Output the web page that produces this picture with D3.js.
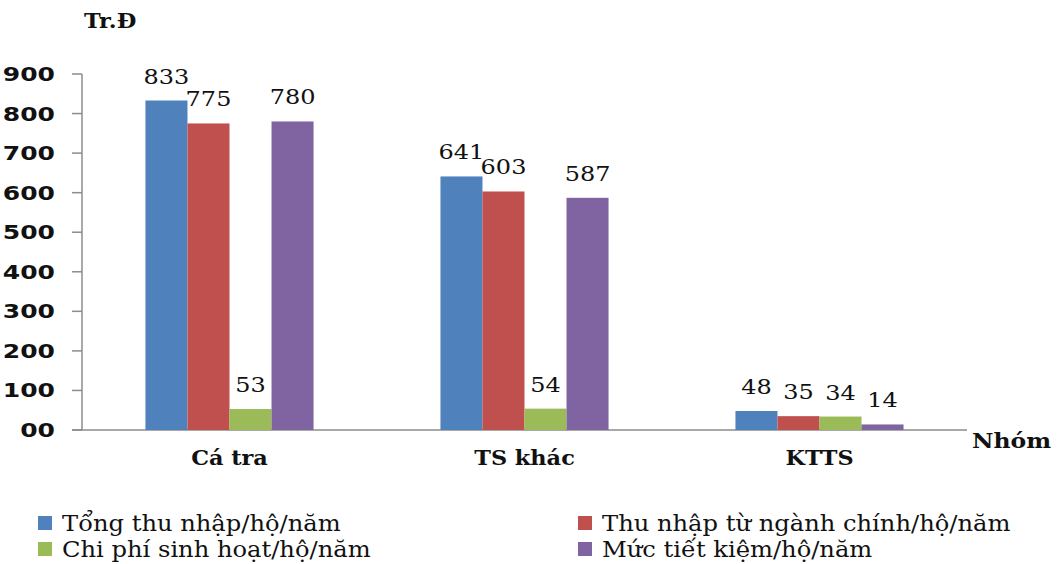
<!DOCTYPE html>
<html>
<head>
<meta charset="utf-8">
<script src="https://cdn.jsdelivr.net/npm/d3@7"></script>
<style>
  html, body { margin: 0; padding: 0; background: #fff; }
  svg { display: block; }
  .serif { font-family: "DejaVu Serif", "Liberation Serif", serif; }
  .sans { font-family: "DejaVu Sans", Verdana, sans-serif; }
</style>
</head>
<body>
<svg id="chart" width="1059" height="564"></svg>
<script>
// Household income / expenditure by group (million VND)
const categories = ["Cá tra", "TS khác", "KTTS"];
const seriesNames = [
  "Tổng thu nhập/hộ/năm",
  "Thu nhập từ ngành chính/hộ/năm",
  "Chi phí sinh hoạt/hộ/năm",
  "Mức tiết kiệm/hộ/năm"
];
const totalIncome = [833, 641, 48];
const mainIncome = [775, 603, 35];
const livingCost = [53, 54, 34];
const savings = [780, 587, 14];
const yTicks = [0, 100, 200, 300, 400, 500, 600, 700, 800, 900];
const yTickLabels = ["00", "100", "200", "300", "400", "500", "600", "700", "800", "900"];

const seriesValues = [totalIncome, mainIncome, livingCost, savings];
const colors = ["#4F81BD", "#C0504D", "#9BBB59", "#8064A2"];

const svg = d3.select("#chart");

const plot = { left: 82, right: 967, top: 74, bottom: 430 };

const y = d3.scaleLinear().domain([0, 900]).range([plot.bottom, plot.top]);
const x0 = d3.scaleBand().domain(categories).range([plot.left, plot.right]).padding(0);
const x1 = d3.scaleBand().domain(d3.range(seriesNames.length))
  .range([0, x0.bandwidth()]).paddingInner(0).paddingOuter(1.51);

// text widened horizontally, as in the printed figure
function wideText(g, x, yPos, str, opts) {
  return g.append("text")
    .attr("class", opts.cls || "serif")
    .attr("transform", `translate(${x},${yPos}) scale(${opts.sx || 1},1)`)
    .attr("text-anchor", opts.anchor || "start")
    .style("font-size", (opts.size || 22) + "px")
    .style("font-weight", opts.weight || "normal")
    .attr("fill", opts.fill || "#111")
    .text(str);
}

// axes
const axisColor = "#8c8c8c";
svg.append("line")
  .attr("x1", plot.left).attr("x2", plot.left)
  .attr("y1", y(900)).attr("y2", y(0))
  .attr("stroke", axisColor).attr("stroke-width", 1.5);
svg.append("line")
  .attr("x1", plot.left - 10).attr("x2", plot.right)
  .attr("y1", y(0)).attr("y2", y(0))
  .attr("stroke", axisColor).attr("stroke-width", 1.5);

const tickG = svg.append("g");
yTicks.forEach((v, i) => {
  tickG.append("line")
    .attr("x1", plot.left - 10).attr("x2", plot.left)
    .attr("y1", y(v)).attr("y2", y(v))
    .attr("stroke", axisColor).attr("stroke-width", 1.5);
  wideText(tickG, 55, y(v) + 7, yTickLabels[i],
    { cls: "sans", anchor: "end", size: 20, weight: "bold", sx: 1.25 });
});

// bars
const barG = svg.append("g");
categories.forEach((c, ci) => {
  seriesValues.forEach((vals, si) => {
    const v = vals[ci];
    barG.append("rect")
      .attr("x", x0(c) + x1(si))
      .attr("y", y(v))
      .attr("width", x1.bandwidth())
      .attr("height", y(0) - y(v))
      .attr("fill", colors[si]);
  });
});

// value labels
const lblG = svg.append("g");
categories.forEach((c, ci) => {
  seriesValues.forEach((vals, si) => {
    const v = vals[ci];
    const cx = x0(c) + x1(si) + x1.bandwidth() / 2;
    wideText(lblG, cx, y(v) - 17, String(v), { anchor: "middle", size: 20, sx: 1.2 });
  });
});

// category labels
categories.forEach(c => {
  wideText(svg, x0(c) + x0.bandwidth() / 2, 465, c,
    { anchor: "middle", size: 20, weight: "bold", sx: 1.12 });
});

// axis titles
wideText(svg, 84, 28, "Tr.Đ", { size: 21, weight: "bold", sx: 1.07 });
wideText(svg, 972, 448, "Nhóm", { size: 21, weight: "bold", sx: 1.12 });

// legend
const legendPos = [
  { x: 38, y: 531 }, { x: 578, y: 531 },
  { x: 38, y: 557 }, { x: 578, y: 557 }
];
const legG = svg.append("g");
seriesNames.forEach((name, i) => {
  const p = legendPos[i];
  legG.append("rect")
    .attr("x", p.x).attr("y", p.y - 15)
    .attr("width", 14).attr("height", 14)
    .attr("fill", colors[i]);
  wideText(legG, p.x + 24, p.y, name, { size: 22, sx: 1.1 });
});
</script>
</body>
</html>
